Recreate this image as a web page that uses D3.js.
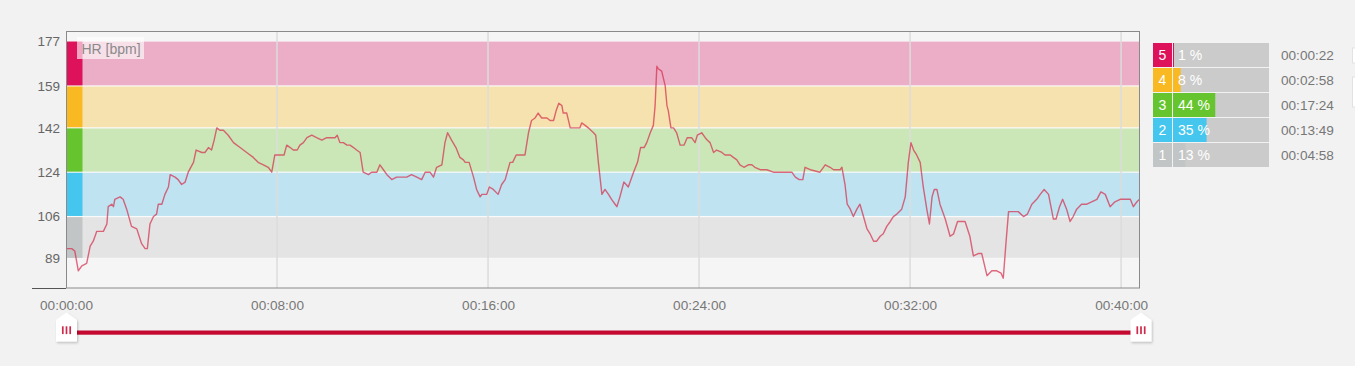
<!DOCTYPE html>
<html><head><meta charset="utf-8">
<script src="https://cdn.jsdelivr.net/npm/d3@7/dist/d3.min.js"></script>
<style>
html,body{margin:0;padding:0;background:#f2f2f2;}
svg{display:block;font-family:"Liberation Sans",Arial,sans-serif;}
</style></head><body>
<svg id="chart" width="1355" height="366"></svg>
<script>
// ---- data ----
const seconds = [0,13,20,28,36,47,55,62,70,85,93,96,104,108,111,123,130,138,149,161,172,180,185,191,199,206,210,218,225,233,237,248,255,263,271,278,290,296,309,316,324,331,337,343,350,358,369,381,396,411,426,437,449,460,468,475,487,496,502,510,517,526,532,540,548,559,570,582,593,604,612,617,623,631,639,646,654,661,669,676,688,695,707,714,722,730,741,752,760,775,786,798,809,817,828,836,843,855,862,868,877,887,896,904,908,917,927,934,942,946,957,963,972,983,991,999,1010,1016,1024,1033,1044,1052,1059,1067,1074,1082,1094,1101,1109,1115,1121,1128,1131,1139,1147,1162,1169,1173,1181,1188,1200,1205,1211,1219,1226,1234,1241,1249,1253,1260,1269,1279,1291,1300,1307,1315,1321,1329,1336,1340,1344,1347,1355,1363,1367,1370,1376,1382,1389,1397,1406,1413,1423,1431,1436,1446,1454,1459,1465,1473,1480,1492,1499,1511,1518,1526,1533,1542,1552,1560,1567,1579,1594,1609,1632,1651,1659,1668,1676,1681,1693,1715,1727,1738,1746,1761,1765,1772,1777,1784,1791,1799,1806,1814,1822,1829,1837,1844,1852,1859,1867,1875,1882,1890,1901,1909,1916,1922,1928,1935,1943,1950,1958,1964,1970,1975,1981,1988,2000,2011,2019,2028,2045,2056,2064,2075,2083,2091,2095,2106,2117,2127,2132,2138,2144,2155,2166,2178,2187,2197,2208,2216,2225,2235,2246,2252,2260,2267,2276,2284,2291,2299,2310,2322,2333,2345,2354,2364,2375,2386,2398,2409,2421,2428,2436,2442];
const bpm = [93,93,92,84,86,87,94,96,100,100,103,110,111,110,113,114,113,109,102,101,95,93,93,103,106,107,111,111,115,118,123,122,121,119,120,124,128,133,132,132,134,133,137,142,141,141,139,136,134,132,130,128,127,126,124,131,131,131,135,134,133,133,135,136,138,139,138,137,138,138,138,139,136,136,135,135,134,133,132,124,123,124,124,127,125,123,121,122,122,122,123,122,121,124,124,122,126,127,136,140,137,134,130,129,128,128,122,117,114,115,115,118,117,115,119,121,128,128,131,131,131,140,145,146,148,146,146,145,145,149,152,151,148,148,142,142,142,144,143,142,140,139,128,115,117,115,113,111,110,114,120,118,124,128,134,134,136,140,143,151,167,166,165,159,151,149,142,142,140,135,135,138,138,136,139,140,138,137,136,132,133,132,131,131,130,129,127,126,127,127,126,125,125,124,124,124,122,121,121,126,125,124,127,126,125,125,126,119,111,109,106,109,111,106,101,99,96,96,98,99,102,104,106,107,109,114,128,136,133,131,128,118,109,103,114,117,117,111,105,98,99,104,104,98,90,91,91,85,82,84,84,83,81,95,108,108,108,106,107,111,113,115,117,115,105,105,110,113,109,104,106,109,111,111,112,113,116,115,110,112,113,113,113,110,112,113];

const zoneBounds = [89,106,124,142,159,177];
const zoneNames = ["1","2","3","4","5"];
const zoneBandColors = ["#e3e4e3","#bfe3f1","#cbe7b8","#f6e2ae","#ecaec6"];
const zoneColors = ["#c2c5c5","#45c6ee","#66c52e","#f8b922","#de115b"];
const zonePercents = [13,35,44,8,1];
const zoneTimes = ["00:04:58","00:13:49","00:17:24","00:02:58","00:00:22"];
const timeTicks = [0,480,960,1440,1920,2400];
const yTicks = [89,106,124,142,159,177];
const yLabel = "HR [bpm]";

// ---- layout ----
const L = 66, R = 1140, T = 31, B = 289;
const svg = d3.select("#chart");
const x = d3.scaleLinear().domain([0, 2443]).range([L, R]);
const y = d3.scaleLinear().domain([76.6, 181.3]).range([B, T]);
const fmt = s => {
  const h = Math.floor(s/3600), m = Math.floor((s%3600)/60), sec = s%60;
  return [h,m,sec].map(v => String(v).padStart(2,"0")).join(":");
};

const defs = svg.append("defs");
const f = defs.append("filter").attr("id","sh").attr("x","-50%").attr("y","-50%").attr("width","200%").attr("height","200%");
f.append("feDropShadow").attr("dx",1).attr("dy",1.5).attr("stdDeviation",1.3).attr("flood-color","#000").attr("flood-opacity",0.22);

// plot frame bg
svg.append("rect").attr("x",L+0.5).attr("y",T+0.5).attr("width",R-L-1).attr("height",B-T-1.5)
  .attr("fill","#f5f5f5").attr("stroke","none");

// white under bands (gap colour)
svg.append("rect").attr("x",L).attr("y",y(177)).attr("width",R-L).attr("height",y(89)-y(177)).attr("fill","#fafafa");

// bands
const zones = zoneNames.map((n,i)=>({name:n, lo:zoneBounds[i], hi:zoneBounds[i+1], band:zoneBandColors[i], col:zoneColors[i], pct:zonePercents[i], time:zoneTimes[i]}));
svg.append("g").selectAll("rect").data(zones).join("rect")
  .attr("x", L).attr("width", R-L)
  .attr("y", d => y(d.hi) + (d.hi===177?0:0.6))
  .attr("height", d => y(d.lo) - y(d.hi) - (d.hi===177?0.6:1.2))
  .attr("fill", d => d.band);
// zone indicators
svg.append("g").selectAll("rect").data(zones).join("rect")
  .attr("x", L+0.5).attr("width", 16)
  .attr("y", d => y(d.hi) + (d.hi===177?0:0.6))
  .attr("height", d => y(d.lo) - y(d.hi) - (d.hi===177?0.6:1.2))
  .attr("fill", d => d.col);

// vertical grid lines
svg.append("g").selectAll("line").data(timeTicks.filter(t=>t>0)).join("line")
  .attr("x1", d=>x(d)).attr("x2", d=>x(d)).attr("y1", T+1).attr("y2", B-1)
  .attr("stroke","#dcdcdc").attr("stroke-width",1.5);

// HR label
svg.append("rect").attr("x",77).attr("y",37).attr("width",67).attr("height",22)
  .attr("fill","#ffffff").attr("opacity",0.62);
svg.append("text").attr("x",81.5).attr("y",53.5).attr("font-size",14).attr("fill","#8a8a8a").text(yLabel);

// line
const line = d3.line().x((d,i)=>x(seconds[i])).y(d=>y(d));
svg.append("path").datum(bpm).attr("d", line).attr("fill","none")
  .attr("stroke","#d6314f").attr("stroke-opacity",0.72).attr("stroke-width",1.4).attr("stroke-linejoin","round");

// frame
svg.append("rect").attr("x",L+0.5).attr("y",T+0.5).attr("width",R-L-1).attr("height",B-T-1.5)
  .attr("fill","none").attr("stroke","#8a8a8a").attr("stroke-width",1);
svg.append("line").attr("x1",32).attr("x2",L).attr("y1",288.5).attr("y2",288.5).attr("stroke","#555").attr("stroke-width",1);

// y axis
const ya = svg.append("g").attr("transform",`translate(${L},0)`)
  .call(d3.axisLeft(y).tickValues(yTicks).tickSize(0).tickPadding(6));
ya.select(".domain").remove();
ya.selectAll("text").attr("font-size",13.5).attr("fill","#666").attr("font-family","Liberation Sans, Arial, sans-serif");

// x axis
const xa = svg.append("g").attr("transform",`translate(0,${B})`)
  .call(d3.axisBottom(x).tickValues(timeTicks).tickFormat(fmt).tickSize(0).tickPadding(11));
xa.select(".domain").remove();
xa.selectAll("text").attr("font-size",13.6).attr("fill","#777").attr("font-family","Liberation Sans, Arial, sans-serif");

// slider
svg.append("rect").attr("x",x(0)).attr("y",330.5).attr("width",x(2443)-x(0)).attr("height",4.2).attr("fill","#c4082f");
[0, 2443].forEach(t => {
  const cx = x(t) + (t>0?1:0.5);
  const g = svg.append("g").attr("transform",`translate(${cx},0)`);
  g.append("path").attr("d","M-10.5,320 L0,312.5 L10.5,320 L10.5,341.5 L-10.5,341.5 Z")
    .attr("fill","#fff").attr("filter","url(#sh)");
  [-3.7,0,3.7].forEach(dx => g.append("rect").attr("x",dx-0.85).attr("y",326.3).attr("width",1.7).attr("height",7.8).attr("fill","#cf2a4a"));
});

// legend
const lg = svg.append("g");
const rows = zones.slice().reverse();
rows.forEach((d,i) => {
  const ry = 43 + i*25;
  lg.append("rect").attr("x",1153).attr("y",ry).attr("width",19).attr("height",24).attr("fill",d.col);
  lg.append("rect").attr("x",1173).attr("y",ry).attr("width",96).attr("height",24).attr("fill","#cbcbcb");
  lg.append("rect").attr("x",1173).attr("y",ry).attr("width",Math.max(1,96*d.pct/100)).attr("height",24).attr("fill",d.col);
  lg.append("text").attr("x",1162.5).attr("y",ry+16.5).attr("text-anchor","middle").attr("font-size",14).attr("fill","#fff").text(d.name);
  lg.append("text").attr("x",1178).attr("y",ry+16.5).attr("font-size",14).attr("fill","#fff").text(d.pct + " %");
  lg.append("text").attr("x",1281).attr("y",ry+16.5).attr("font-size",13.6).attr("fill","#777").text(d.time);
});

// partially visible controls at right edge
svg.append("rect").attr("x",1352.5).attr("y",48).attr("width",6).attr("height",15).attr("fill","#fff").attr("stroke","#e2e2e2");
svg.append("rect").attr("x",1352.5).attr("y",77).attr("width",6).attr("height",30).attr("fill","#fff").attr("stroke","#e2e2e2");
</script>
</body></html>
